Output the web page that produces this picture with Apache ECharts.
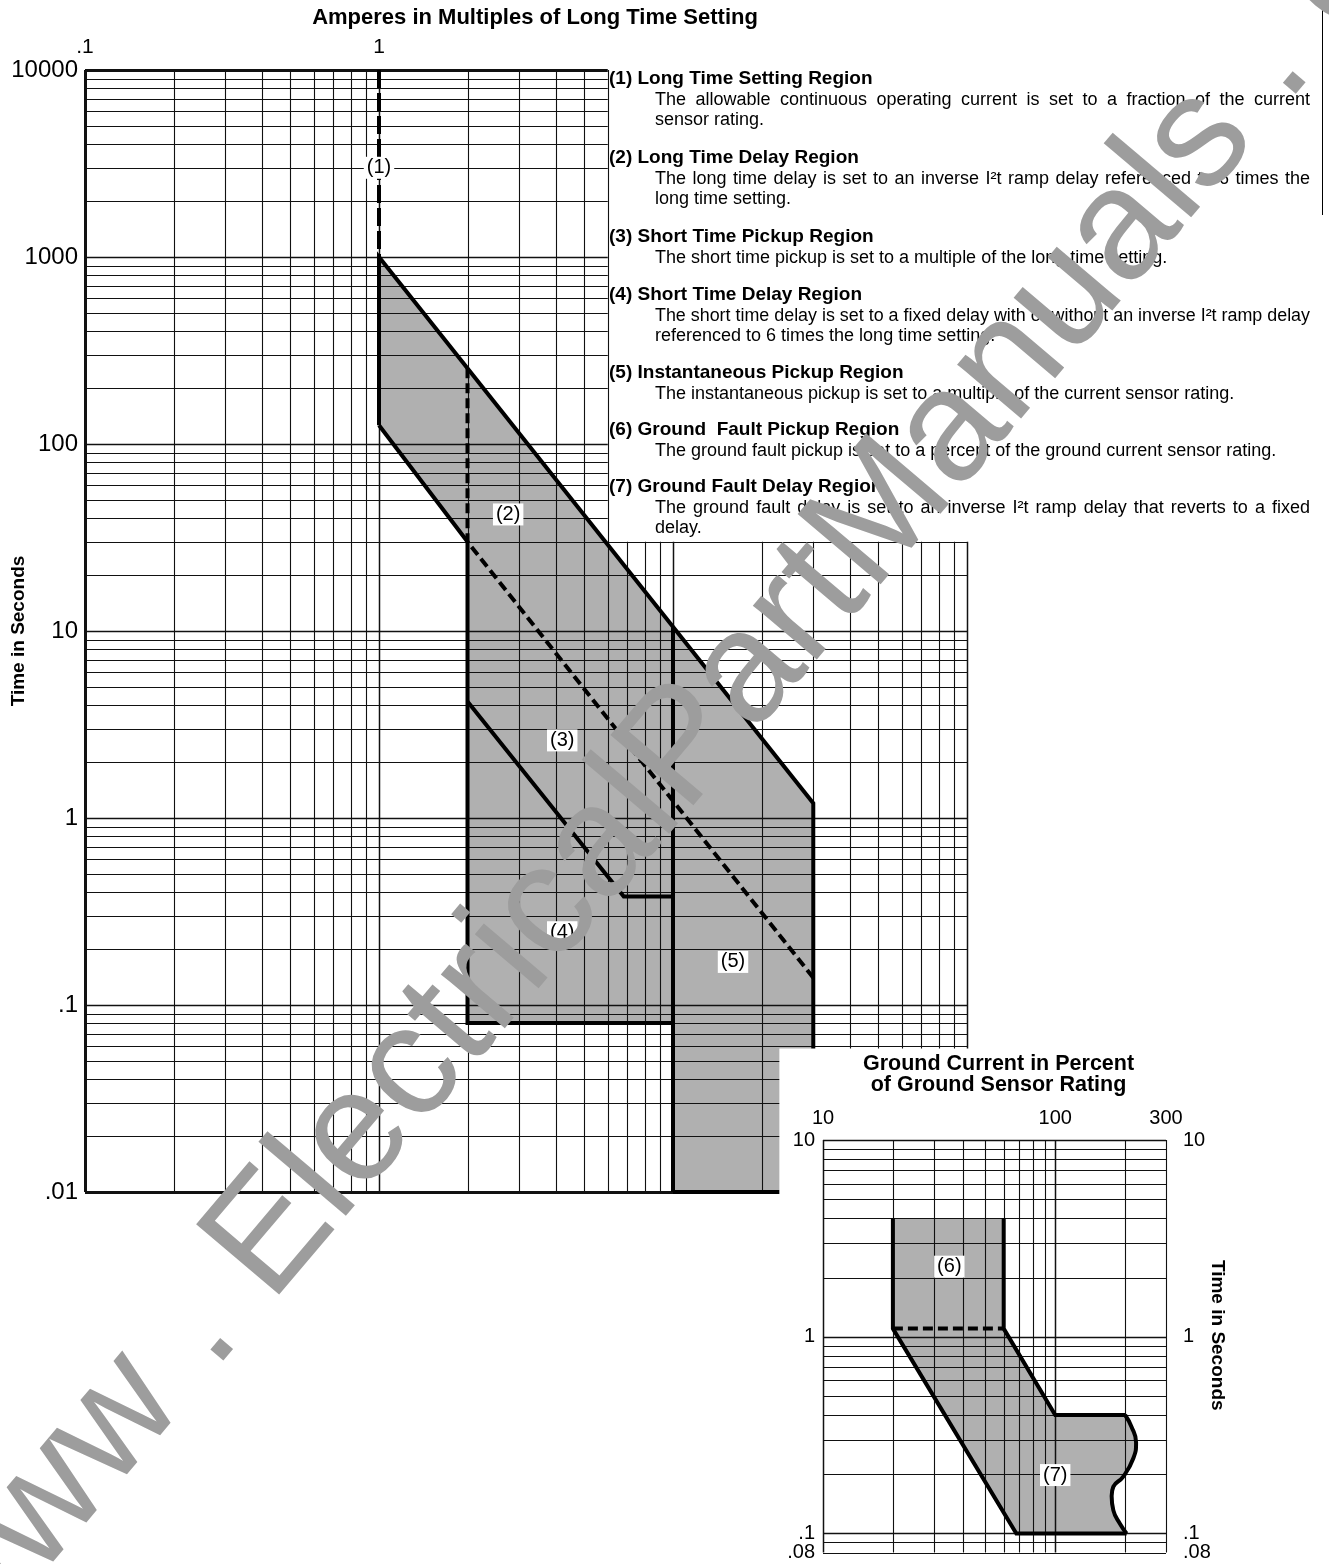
<!DOCTYPE html>
<html>
<head>
<meta charset="utf-8">
<script src="https://cdn.jsdelivr.net/npm/echarts@6/dist/echarts.min.js"></script>
<style>
html,body{margin:0;padding:0;background:#fff;}
#c{width:1329px;height:1564px;}
</style>
</head>
<body>
<div id="c"></div>
<script>
// ================= DATA =================
// Main chart: Amperes in multiples of long time setting (x) vs time in seconds (y)
const mainXRange = [0.1, 100];
const mainYRange = [0.01, 10000];
const mainGridX = [0.1,0.2,0.3,0.4,0.5,0.6,0.7,0.8,0.9,1,2,3,4,5,6,7,8,9,10,20,30,40,50,60,70,80,90,100];
const mainGridY = [0.01,0.02,0.03,0.04,0.05,0.06,0.07,0.08,0.09,0.1,0.2,0.3,0.4,0.5,0.6,0.7,0.8,0.9,
  1,2,3,4,5,6,7,8,9,10,20,30,40,50,60,70,80,90,100,200,300,400,500,600,700,800,900,
  1000,2000,3000,4000,5000,6000,7000,8000,9000,10000];
const mainXTickLabels = [0.1, 1];                                  // labels shown on the top axis
const mainYTickLabels = [0.01, 0.1, 1, 10, 100, 1000, 10000];
// upper grid (t above 30 s) stops at x = 6
const upperGridMaxX = 6;
const upperGridMinT = 30;
// inset panel covers the main chart from x = 23, t below 0.06
const insetPanelCorner = [23, 0.06];

// shaded trip band, regions (2)-(5)
const tripBandFill = [[1,1000],[30,1.2],[30,0.01],[10,0.01],[10,0.08],[2,0.08],[2,30],[1,126]];
const longTimeSettingLine = [[1,10000],[1,1000]];                      // (1) dashed
const outerBoundary = [[1,126],[1,1000],[30,1.2],[30,0.01],[10,0.01]];
const instantaneousPickupLine = [[10,0.01],[10,10.5]];
const longDelayLowerLine = [[1,126],[2,30],[2,0.08],[10,0.08]];
const shortTimePickupLine = [[2,4.2],[6.8,0.38],[10,0.38]];
const longDelayDashedLine = [[2,254],[2,30],[30,0.14]];
const mainRegionLabels = [['(1)',1,3000],['(2)',2.75,42],['(3)',4.2,2.6],['(4)',4.2,0.245],['(5)',16,0.17]];

// Inset: ground current in percent of ground sensor rating
const insetXRange = [10, 300];
const insetYRange = [0.08, 10];
const insetGridX = [10,20,30,40,50,60,70,80,90,100,200,300];
const insetGridY = [0.08,0.09,0.1,0.2,0.3,0.4,0.5,0.6,0.7,0.8,0.9,1,2,3,4,5,6,7,8,9,10];
const insetXTickLabels = [10, 100, 300];
const insetYTickLabels = [0.08, 0.1, 1, 10];
const groundBandFill = [[20,4],[60,4],[60,1.1],[100,0.4],[200,0.4],[213,0.349],[223,0.29],[217,0.241],
  [196,0.194],[178,0.173],[175,0.155],[178,0.131],[190,0.112],[203,0.1],[68,0.1],[20,1.1]];
const groundLeftLine = [[20,4],[20,1.1],[68,0.1],[203,0.1]];
const groundRightLine = [[60,4],[60,1.1],[100,0.4],[200,0.4]];
const groundWaveLine = [[200,0.4],[213,0.349],[223,0.29],[217,0.241],[196,0.194],[178,0.173],
  [175,0.155],[178,0.131],[190,0.112],[203,0.1]];
const groundPickupDashed = [[20,1.1],[60,1.1]];
const insetRegionLabels = [['(6)',35,2.27],['(7)',100,0.198]];

// Texts
const mainTitle = 'Amperes in Multiples of Long Time Setting';
const timeAxisName = 'Time in Seconds';
const insetTitle = 'Ground Current in Percent\nof Ground Sensor Rating';
const regionHeadings = [
  '(1) Long Time Setting Region',
  '(2) Long Time Delay Region',
  '(3) Short Time Pickup Region',
  '(4) Short Time Delay Region',
  '(5) Instantaneous Pickup Region',
  '(6) Ground  Fault Pickup Region',
  '(7) Ground Fault Delay Region'
];
const regionDescriptions = [
  ['The allowable continuous operating current is set to a fraction of the current', 'sensor rating.'],
  ['The long time delay is set to an inverse I\u00b2t ramp delay referenced to 6 times the', 'long time setting.'],
  ['The short time pickup is set to a multiple of the long time setting.'],
  ['The short time delay is set to a fixed delay with or without an inverse I\u00b2t ramp delay', 'referenced to 6 times the long time setting.'],
  ['The instantaneous pickup is set to a multiple of the current sensor rating.'],
  ['The ground fault pickup is set to a percent of the ground current sensor rating.'],
  ['The ground fault delay is set to an inverse I\u00b2t ramp delay that reverts to a fixed', 'delay.']
];
const watermarkText = 'www . ElectricalPartManuals . com';

// ================= LAYOUT / STYLE =================
const FAM = '"Liberation Sans", Arial, Helvetica, sans-serif';
const FILL = '#b0b0b0';
const HEADING_X = 609, DESC_X = 655, TEXT_RIGHT = 1310;
const HEADING_Y = [79, 158, 237, 295, 373, 430, 487];
const DESC_DY = [21, 41];
const DESC_SIZE = 18, HEAD_SIZE = 19;

function fmtNum(v) {
  const s = +(+v).toPrecision(6);
  return s < 1 ? String(s).replace(/^0/, '') : String(s);
}
function isDecade(v) {
  const l = Math.log10(v);
  return Math.abs(l - Math.round(l)) < 1e-9;
}
function near(a, b) { return Math.abs(a - b) < 1e-9 * Math.max(1, Math.abs(b)); }

// grid segments [x1, y1, x2, y2]
const mainGridSegments = [];
mainGridX.forEach(x => {
  const top = x <= upperGridMaxX ? mainYRange[1] : upperGridMinT;
  mainGridSegments.push([x, mainYRange[0], x, top]);
});
mainGridY.forEach(t => {
  const right = t > upperGridMinT ? upperGridMaxX : mainXRange[1];
  mainGridSegments.push([mainXRange[0], t, right, t]);
});
const insetGridSegments = [];
insetGridX.forEach(x => insetGridSegments.push([x, insetYRange[0], x, insetYRange[1]]));
insetGridY.forEach(t => insetGridSegments.push([insetXRange[0], t, insetXRange[1], t]));

function gridSeries(segs, xi, yi, z, thick) {
  return {
    type: 'custom', xAxisIndex: xi, yAxisIndex: yi, z: z, silent: true, animation: false,
    encode: {x: [0, 2], y: [1, 3]},
    data: segs,
    renderItem: function (params, api) {
      const s = segs[params.dataIndex];
      const a = api.coord([s[0], s[1]]), b = api.coord([s[2], s[3]]);
      const vertical = s[0] === s[2];
      const v = vertical ? s[0] : s[1];
      let w = isDecade(v) ? 1.5 : 1.1;
      if (thick(vertical, v)) w = 3;
      if (vertical) { const p = Math.round(a[0]) + 0.5; a[0] = p; b[0] = p; }
      else { const p = Math.round(a[1]) + 0.5; a[1] = p; b[1] = p; }
      return {type: 'line', shape: {x1: a[0], y1: a[1], x2: b[0], y2: b[1]},
              style: {stroke: '#111', lineWidth: w}};
    }
  };
}
function polygonSeries(points, xi, yi, z) {
  return {
    type: 'custom', xAxisIndex: xi, yAxisIndex: yi, z: z, silent: true, animation: false,
    data: [points[0]],
    renderItem: function (params, api) {
      return {type: 'polygon', shape: {points: points.map(p => api.coord(p))},
              style: {fill: FILL}};
    }
  };
}
function lineSeries(data, xi, yi, z, dash, smooth) {
  return {
    type: 'line', xAxisIndex: xi, yAxisIndex: yi, z: z, data: data, silent: true, animation: false,
    symbol: 'none', showSymbol: false, smooth: smooth || false, clip: false,
    lineStyle: {color: '#000', width: 4, type: dash || 'solid', join: 'miter', cap: 'butt'}
  };
}
function labelSeries(labels, xi, yi, z, size) {
  return {
    type: 'custom', xAxisIndex: xi, yAxisIndex: yi, z: z, silent: true, animation: false,
    data: labels.map(l => [l[1], l[2]]),
    renderItem: function (params, api) {
      const l = labels[params.dataIndex];
      const p = api.coord([l[1], l[2]]);
      return {type: 'text', x: p[0], y: p[1],
              style: {text: l[0], align: 'center', verticalAlign: 'middle',
                      font: size + 'px ' + FAM, fill: '#000', backgroundColor: '#fff', padding: [1, 3]}};
    }
  };
}
// tick labels of the inset time axis (the .1 and .08 ticks sit closer than one line of text)
function insetTimeLabelSeries(values, side, z) {
  return {
    type: 'custom', xAxisIndex: 1, yAxisIndex: 1, z: z, silent: true, animation: false,
    data: values.map(v => [side === 'left' ? insetXRange[0] : insetXRange[1], v]),
    renderItem: function (params, api) {
      const v = values[params.dataIndex];
      const p = api.coord([side === 'left' ? insetXRange[0] : insetXRange[1], v]);
      return {type: 'text', x: side === 'left' ? p[0] - 8 : p[0] + 17, y: p[1],
              style: {text: fmtNum(v), align: side === 'left' ? 'right' : 'left', verticalAlign: 'middle',
                      font: '20px ' + FAM, fill: '#000'}};
    }
  };
}

function labelOpts(size, margin, values) {
  return {color: '#000', fontFamily: FAM, fontSize: size, margin: margin, hideOverlap: false,
          showMinLabel: true, showMaxLabel: true, customValues: values, formatter: fmtNum};
}

const option = {
  backgroundColor: '#fff',
  animation: false,
  grid: [
    {left: 85, top: 70, width: 882, height: 1122, containLabel: false, outerBoundsMode: 'none'},
    {left: 823, top: 1140, width: 343, height: 412.5, containLabel: false, outerBoundsMode: 'none'}
  ],
  xAxis: [
    {
      gridIndex: 0, type: 'log', logBase: 10, min: mainXRange[0], max: mainXRange[1], position: 'top',
      name: mainTitle, nameLocation: 'middle', nameGap: 41, nameMoveOverlap: false,
      nameTextStyle: {fontFamily: FAM, fontSize: 22, fontWeight: 'bold', color: '#000', padding: [0, 0, 0, 18]},
      axisLine: {show: false}, axisTick: {show: false}, splitLine: {show: false},
      axisLabel: labelOpts(21, 12, mainXTickLabels)
    },
    {
      gridIndex: 1, type: 'log', logBase: 10, min: insetXRange[0], max: insetXRange[1], position: 'top', z: 15,
      name: insetTitle, nameLocation: 'middle', nameGap: 44, nameMoveOverlap: false,
      nameTextStyle: {fontFamily: FAM, fontSize: 21.5, fontWeight: 'bold', color: '#000', lineHeight: 21, align: 'center', padding: [0, 0, 0, 8]},
      axisLine: {show: false}, axisTick: {show: false}, splitLine: {show: false},
      axisLabel: labelOpts(20, 12, insetXTickLabels)
    }
  ],
  yAxis: [
    {
      gridIndex: 0, type: 'log', logBase: 10, min: mainYRange[0], max: mainYRange[1],
      name: timeAxisName, nameLocation: 'middle', nameGap: 57, nameRotate: 90, nameMoveOverlap: false,
      nameTextStyle: {fontFamily: FAM, fontSize: 19, fontWeight: 'bold', color: '#000'},
      axisLine: {show: false}, axisTick: {show: false}, splitLine: {show: false},
      axisLabel: labelOpts(24, 7, mainYTickLabels)
    },
    {
      gridIndex: 1, type: 'log', logBase: 10, min: insetYRange[0], max: insetYRange[1], position: 'left', z: 15,
      axisLine: {show: false}, axisTick: {show: false}, splitLine: {show: false},
      axisLabel: {show: false}
    },
    {
      gridIndex: 1, type: 'log', logBase: 10, min: insetYRange[0], max: insetYRange[1], position: 'right', z: 15,
      name: timeAxisName, nameLocation: 'middle', nameGap: 42, nameRotate: -90, nameMoveOverlap: false,
      nameTextStyle: {fontFamily: FAM, fontSize: 19, fontWeight: 'bold', color: '#000', padding: [0, 22, 0, 0]},
      axisLine: {show: false}, axisTick: {show: false}, splitLine: {show: false},
      axisLabel: {show: false}
    }
  ],
  series: [
    polygonSeries(tripBandFill, 0, 0, 1),
    gridSeries(mainGridSegments, 0, 0, 2, function (vertical, v) {
      return vertical ? near(v, mainXRange[0]) : (near(v, mainYRange[0]) || near(v, mainYRange[1]));
    }),
    lineSeries(longTimeSettingLine, 0, 0, 3, [18, 5]),
    lineSeries(outerBoundary, 0, 0, 3),
    lineSeries(instantaneousPickupLine, 0, 0, 3),
    lineSeries(longDelayLowerLine, 0, 0, 3),
    lineSeries(shortTimePickupLine, 0, 0, 3),
    lineSeries(longDelayDashedLine, 0, 0, 3, [10, 5]),
    labelSeries(mainRegionLabels, 0, 0, 4, 20),

    polygonSeries(groundBandFill, 1, 1, 11),
    gridSeries(insetGridSegments, 1, 1, 12, function () { return false; }),
    lineSeries(groundLeftLine, 1, 1, 13),
    lineSeries(groundRightLine, 1, 1, 13),
    lineSeries(groundWaveLine, 1, 1, 13, 'solid', 0.5),
    lineSeries(groundPickupDashed, 1, 1, 13, [10, 5]),
    labelSeries(insetRegionLabels, 1, 1, 14, 20),
    insetTimeLabelSeries(insetYTickLabels, 'left', 14),
    insetTimeLabelSeries(insetYTickLabels, 'right', 14)
  ]
};

const chart = echarts.init(document.getElementById('c'), null, {renderer: 'canvas', width: 1329, height: 1564});
chart.setOption(option);

// ---------- overlay graphics: inset panel background, text block, watermark ----------
const els = [];
const corner = chart.convertToPixel({gridIndex: 0}, insetPanelCorner);
els.push({type: 'rect', z: 10, silent: true,
  shape: {x: corner[0], y: corner[1] + 2, width: 1329 - corner[0], height: 1564 - corner[1]},
  style: {fill: '#fff'}});

const mctx = document.createElement('canvas').getContext('2d');
function measure(t, font) { mctx.font = font; return mctx.measureText(t).width; }

regionHeadings.forEach(function (h, i) {
  els.push({type: 'text', z: 20, silent: true, x: HEADING_X, y: HEADING_Y[i],
    style: {text: h, font: 'bold ' + HEAD_SIZE + 'px ' + FAM, fill: '#000', align: 'left', verticalAlign: 'middle'}});
  const lines = regionDescriptions[i];
  lines.forEach(function (line, j) {
    const y = HEADING_Y[i] + DESC_DY[j];
    const justify = j < lines.length - 1;
    if (!justify) {
      els.push({type: 'text', z: 20, silent: true, x: DESC_X, y: y,
        style: {text: line, font: DESC_SIZE + 'px ' + FAM, fill: '#000', align: 'left', verticalAlign: 'middle'}});
      return;
    }
    const target = TEXT_RIGHT - DESC_X;
    let size = DESC_SIZE;
    let font = size + 'px ' + FAM;
    const natural = measure(line, font);
    if (natural > target) { size = size * target / natural; font = size + 'px ' + FAM; }
    const words = line.split(' ');
    const widths = words.map(w => measure(w, font));
    const sum = widths.reduce((a, b) => a + b, 0);
    const gap = (target - sum) / (words.length - 1);
    let x = DESC_X;
    words.forEach(function (w, k) {
      els.push({type: 'text', z: 20, silent: true, x: x, y: y,
        style: {text: w, font: font, fill: '#000', align: 'left', verticalAlign: 'middle'}});
      x += widths[k] + gap;
    });
  });
});

// page border line at top right
els.push({type: 'line', z: 20, silent: true, shape: {x1: 1322.5, y1: 0, x2: 1322.5, y2: 215}, style: {stroke: '#000', lineWidth: 1}});

// watermark
els.push({type: 'text', z: 100, silent: true, x: 717, y: 710, rotation: 49.75 * Math.PI / 180,
  style: {text: watermarkText, font: '158px ' + FAM, fill: '#9d9d9d', align: 'center', verticalAlign: 'middle'}});

chart.setOption({graphic: {elements: els}});
</script>
</body>
</html>
